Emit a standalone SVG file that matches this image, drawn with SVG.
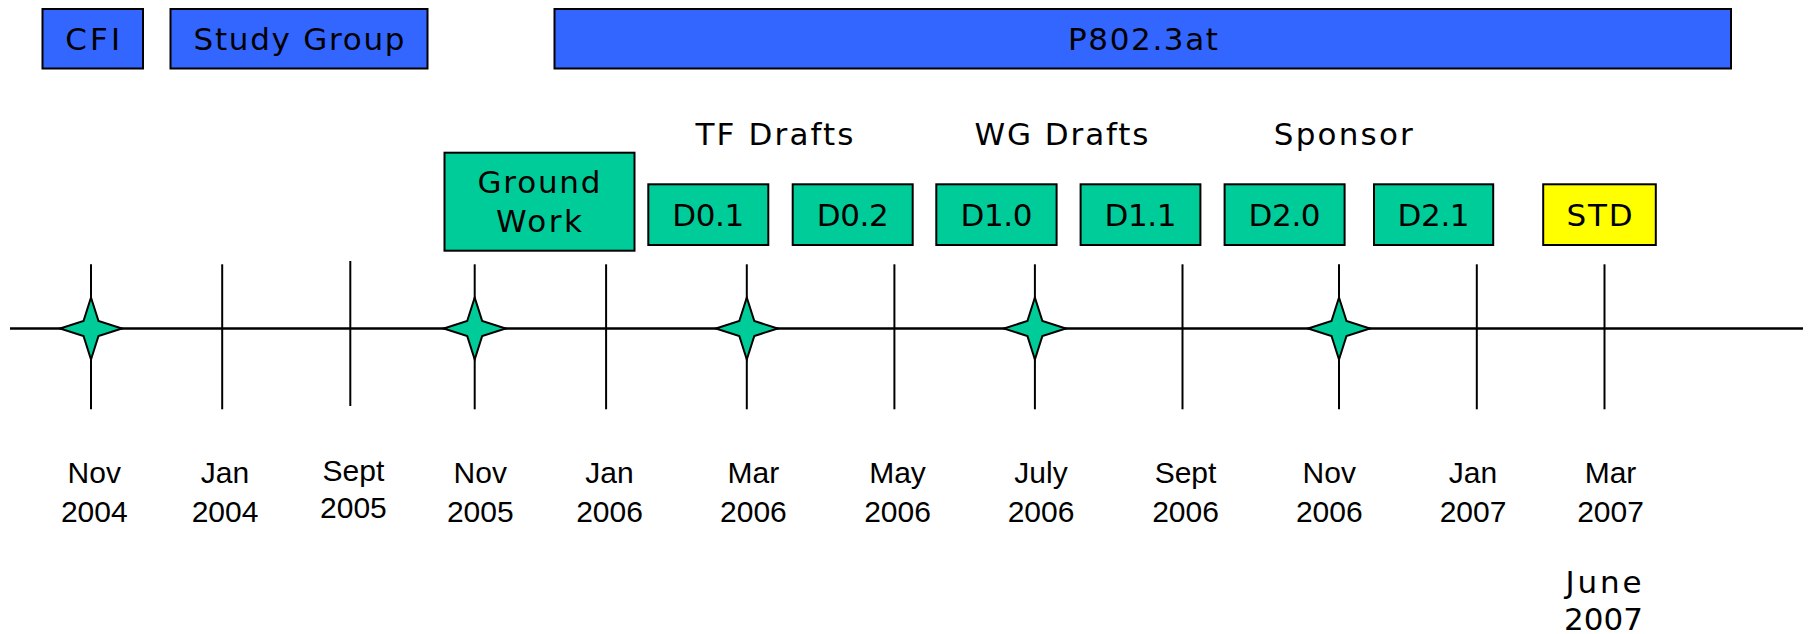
<svg xmlns="http://www.w3.org/2000/svg" width="1813" height="634" viewBox="0 0 1813 634">
<style>
.box{stroke:#000;stroke-width:2}
.blue{fill:#3366FF}
.green{fill:#00CC99}
.yellow{fill:#FFFF00}
.bt{font-family:"DejaVu Sans",Verdana,sans-serif;font-size:31px;fill:#000;text-anchor:middle}
.lbl{font-family:"Liberation Sans",Arial,sans-serif;font-size:30px;fill:#000;text-anchor:middle}
.tick{stroke:#000;stroke-width:2;fill:none}
.axis{stroke:#000;stroke-width:2.5;fill:none}
.star{fill:#00CC99;stroke:#000;stroke-width:2;stroke-linejoin:miter}
</style>
<defs>
<path id="star4" d="M0,-31 Q4.5,-17 7.5,-7.5 Q17,-4.5 31,0 Q17,4.5 7.5,7.5 Q4.5,17 0,31 Q-4.5,17 -7.5,7.5 Q-17,4.5 -31,0 Q-17,-4.5 -7.5,-7.5 Q-4.5,-17 0,-31 Z"/>
</defs>

<g id="phases">
<g id="cfi"><rect class="box blue" x="42.5" y="9" width="100.5" height="59.5"/><text class="bt" x="92.7" y="50" textLength="55">CFI</text></g>
<g id="study-group"><rect class="box blue" x="170.5" y="9" width="257" height="59.5"/><text class="bt" x="299" y="50" textLength="211">Study Group</text></g>
<g id="p8023at"><rect class="box blue" x="554.5" y="9" width="1176.5" height="59.5"/><text class="bt" x="1143" y="50" textLength="150">P802.3at</text></g>
</g>

<g id="headings">
<text class="bt" x="774.5" y="145" textLength="158">TF Drafts</text>
<text class="bt" x="1061.5" y="145" textLength="174">WG Drafts</text>
<text class="bt" x="1343.3" y="145" textLength="139">Sponsor</text>
</g>

<g id="drafts">
<g id="ground-work"><rect class="box green" x="444.5" y="152.7" width="190" height="98"/><text class="bt" x="539" y="193.3" textLength="123">Ground</text><text class="bt" x="539" y="231.7" textLength="86">Work</text></g>
<g id="d01"><rect class="box green" x="648.3" y="184.3" width="120" height="60.7"/><text class="bt" x="708.3" y="226" textLength="72">D0.1</text></g>
<g id="d02"><rect class="box green" x="792.7" y="184.3" width="120" height="60.7"/><text class="bt" x="852.7" y="226" textLength="72">D0.2</text></g>
<g id="d10"><rect class="box green" x="936.3" y="184.3" width="120.3" height="60.7"/><text class="bt" x="996.5" y="226" textLength="72">D1.0</text></g>
<g id="d11"><rect class="box green" x="1080.6" y="184.3" width="119.8" height="60.7"/><text class="bt" x="1140.5" y="226" textLength="72">D1.1</text></g>
<g id="d20"><rect class="box green" x="1224.6" y="184.3" width="120" height="60.7"/><text class="bt" x="1284.6" y="226" textLength="72">D2.0</text></g>
<g id="d21"><rect class="box green" x="1374" y="184.3" width="119.2" height="60.7"/><text class="bt" x="1433.6" y="226" textLength="72">D2.1</text></g>
<g id="std"><rect class="box yellow" x="1543.2" y="184.3" width="112.6" height="60.7"/><text class="bt" x="1599.5" y="226" textLength="66">STD</text></g>
</g>

<g id="timeline">
<line class="axis" x1="10" y1="328.5" x2="1803" y2="328.5"/>
<line class="tick" x1="91" y1="264.3" x2="91" y2="409.3"/>
<line class="tick" x1="222.2" y1="264.3" x2="222.2" y2="409.3"/>
<line class="tick" x1="350.3" y1="261" x2="350.3" y2="406"/>
<line class="tick" x1="474.7" y1="264.3" x2="474.7" y2="409.3"/>
<line class="tick" x1="606.1" y1="264.3" x2="606.1" y2="409.3"/>
<line class="tick" x1="746.8" y1="264.3" x2="746.8" y2="409.3"/>
<line class="tick" x1="894.4" y1="264.3" x2="894.4" y2="409.3"/>
<line class="tick" x1="1034.9" y1="264.3" x2="1034.9" y2="409.3"/>
<line class="tick" x1="1182.5" y1="264.3" x2="1182.5" y2="409.3"/>
<line class="tick" x1="1339" y1="264.3" x2="1339" y2="409.3"/>
<line class="tick" x1="1476.8" y1="264.3" x2="1476.8" y2="409.3"/>
<line class="tick" x1="1604.5" y1="264.3" x2="1604.5" y2="409.3"/>
</g>

<g id="milestones">
<use class="star" href="#star4" x="91" y="328.5"/>
<use class="star" href="#star4" x="474.7" y="328.5"/>
<use class="star" href="#star4" x="746.8" y="328.5"/>
<use class="star" href="#star4" x="1034.9" y="328.5"/>
<use class="star" href="#star4" x="1339" y="328.5"/>
</g>

<g id="dates">
<text class="lbl" x="94.3" y="483.3">Nov<tspan x="94.3" y="521.7">2004</tspan></text>
<text class="lbl" x="225" y="483.3">Jan<tspan x="225" y="521.7">2004</tspan></text>
<text class="lbl" x="353.4" y="481">Sept<tspan x="353.4" y="518.3">2005</tspan></text>
<text class="lbl" x="480.3" y="483.3">Nov<tspan x="480.3" y="521.7">2005</tspan></text>
<text class="lbl" x="609.5" y="483.3">Jan<tspan x="609.5" y="521.7">2006</tspan></text>
<text class="lbl" x="753.4" y="483.3">Mar<tspan x="753.4" y="521.7">2006</tspan></text>
<text class="lbl" x="897.5" y="483.3">May<tspan x="897.5" y="521.7">2006</tspan></text>
<text class="lbl" x="1041" y="483.3">July<tspan x="1041" y="521.7">2006</tspan></text>
<text class="lbl" x="1185.5" y="483.3">Sept<tspan x="1185.5" y="521.7">2006</tspan></text>
<text class="lbl" x="1329.3" y="483.3">Nov<tspan x="1329.3" y="521.7">2006</tspan></text>
<text class="lbl" x="1473" y="483.3">Jan<tspan x="1473" y="521.7">2007</tspan></text>
<text class="lbl" x="1610.5" y="483.3">Mar<tspan x="1610.5" y="521.7">2007</tspan></text>
<text class="bt" x="1603.5" y="593.3" textLength="76">June</text>
<text class="bt" x="1603.5" y="630" textLength="79">2007</text>
</g>
</svg>
